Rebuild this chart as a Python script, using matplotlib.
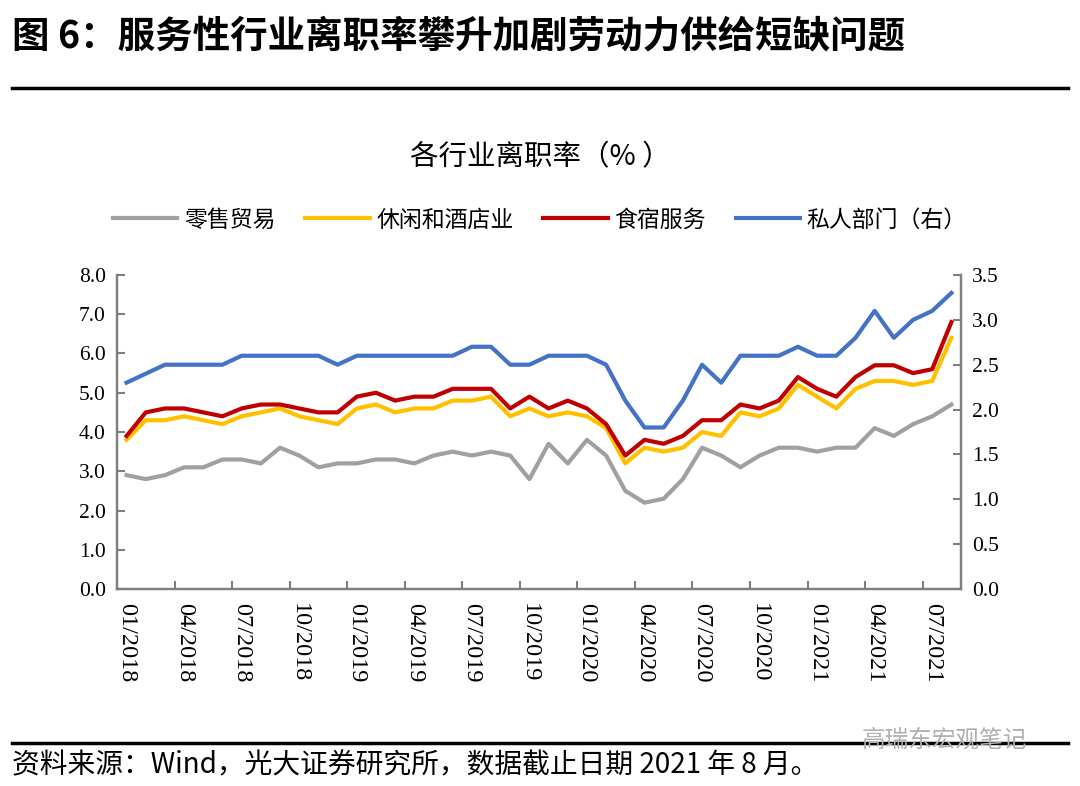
import matplotlib
matplotlib.use("Agg")
import matplotlib.pyplot as plt
import numpy as np

plt.rcParams["font.family"] = ["Noto Sans CJK SC", "DejaVu Sans"]

# monthly, 01/2018 .. 08/2021
months = [f"{m:02d}/{y}" for y in range(2018, 2022) for m in range(1, 13)][:44]

retail = [2.9, 2.8, 2.9, 3.1, 3.1, 3.3, 3.3, 3.2, 3.6, 3.4, 3.1, 3.2, 3.2, 3.3, 3.3,
          3.2, 3.4, 3.5, 3.4, 3.5, 3.4, 2.8, 3.7, 3.2, 3.8, 3.4, 2.5, 2.2, 2.3, 2.8,
          3.6, 3.4, 3.1, 3.4, 3.6, 3.6, 3.5, 3.6, 3.6, 4.1, 3.9, 4.2, 4.4, 4.7]
leisure = [3.8, 4.3, 4.3, 4.4, 4.3, 4.2, 4.4, 4.5, 4.6, 4.4, 4.3, 4.2, 4.6, 4.7, 4.5,
           4.6, 4.6, 4.8, 4.8, 4.9, 4.4, 4.6, 4.4, 4.5, 4.4, 4.1, 3.2, 3.6, 3.5, 3.6,
           4.0, 3.9, 4.5, 4.4, 4.6, 5.2, 4.9, 4.6, 5.1, 5.3, 5.3, 5.2, 5.3, 6.4]
food = [3.9, 4.5, 4.6, 4.6, 4.5, 4.4, 4.6, 4.7, 4.7, 4.6, 4.5, 4.5, 4.9, 5.0, 4.8,
        4.9, 4.9, 5.1, 5.1, 5.1, 4.6, 4.9, 4.6, 4.8, 4.6, 4.2, 3.4, 3.8, 3.7, 3.9,
        4.3, 4.3, 4.7, 4.6, 4.8, 5.4, 5.1, 4.9, 5.4, 5.7, 5.7, 5.5, 5.6, 6.8]
private = [2.3, 2.4, 2.5, 2.5, 2.5, 2.5, 2.6, 2.6, 2.6, 2.6, 2.6, 2.5, 2.6, 2.6, 2.6,
           2.6, 2.6, 2.6, 2.7, 2.7, 2.5, 2.5, 2.6, 2.6, 2.6, 2.5, 2.1, 1.8, 1.8, 2.1,
           2.5, 2.3, 2.6, 2.6, 2.6, 2.7, 2.6, 2.6, 2.8, 3.1, 2.8, 3.0, 3.1, 3.3]

names = ["零售贸易", "休闲和酒店业", "食宿服务", "私人部门（右）"]
colors = ["#A0A0A0", "#FFC000", "#C00000", "#4472C4"]

fig = plt.figure(figsize=(10.8, 7.86), dpi=100)
ax = fig.add_axes([117 / 1080, 1 - 589 / 786, (961 - 117) / 1080, (589 - 275) / 786])
ax2 = ax.twinx()

x = np.arange(len(months))
lines = []
for vals, c, n in zip([retail, leisure, food], colors[:3], names[:3]):
    lines += ax.plot(x, vals, color=c, lw=3, label=n)
lines += ax2.plot(x, private, color=colors[3], lw=3, label=names[3])

ax.set_xlim(-0.5, len(months) - 0.5)
ax.set_ylim(0, 8)
ax2.set_ylim(0, 3.5)
ax.set_yticks(np.arange(0, 8.01, 1.0))
ax2.set_yticks(np.arange(0, 3.51, 0.5))
ax.set_yticklabels([f"{v:.1f}" for v in np.arange(0, 8.01, 1.0)],
                   family="Liberation Serif", fontsize=15.5)
ax2.set_yticklabels([f"{v:.1f}" for v in np.arange(0, 3.51, 0.5)],
                    family="Liberation Serif", fontsize=15.5)

# tick marks between categories, labels every 3 months
ax.set_xticks(np.arange(2.5, len(months) - 1, 3))
ax.set_xticklabels([])
ax.set_xticks(np.arange(0, len(months), 3), minor=True)
ax.set_xticklabels(months[::3], minor=True, rotation=-90,
                   family="Liberation Serif", fontsize=17.5)
ax.tick_params(axis="x", which="minor", length=0, pad=10)
ax.tick_params(axis="x", which="major", direction="in", length=6, color="#7F7F7F", width=1.5)
ax.tick_params(axis="y", direction="in", length=6, color="#7F7F7F", width=1.5, pad=8)
ax2.tick_params(axis="y", direction="in", length=6, color="#7F7F7F", width=1.5, pad=8)

for a in (ax, ax2):
    a.spines["top"].set_visible(False)
    for s in ("left", "right", "bottom"):
        a.spines[s].set_color("#7F7F7F")
        a.spines[s].set_linewidth(1.6)

fig.legend(lines, names, loc="center", bbox_to_anchor=(0.5, 1 - 220 / 786), ncol=4,
           frameon=False, fontsize=16.5, handlelength=2.8, columnspacing=1.3,
           handletextpad=0.3)

fig.text(0.5, 1 - 157 / 786, "各行业离职率（% ）", ha="center", va="center", fontsize=20.5)
fig.text(12 / 1080, 1 - 36 / 786, "图 6：服务性行业离职率攀升加剧劳动力供给短缺问题",
         ha="left", va="center", fontsize=27, fontweight="bold")
fig.add_artist(plt.Line2D([12 / 1080, 1068 / 1080], [1 - 88 / 786] * 2, color="black", lw=2.5))
fig.add_artist(plt.Line2D([12 / 1080, 1068 / 1080], [1 - 743 / 786] * 2, color="black", lw=2.5))
fig.text(12 / 1080, 1 - 765 / 786, "资料来源：Wind，光大证券研究所，数据截止日期 2021 年 8 月。",
         ha="left", va="center", fontsize=20)
fig.text(862 / 1080, 1 - 740 / 786, "高瑞东宏观笔记", ha="left", va="center",
         fontsize=17, color="#B0B0B0")

fig.savefig("out.png", dpi=100)
